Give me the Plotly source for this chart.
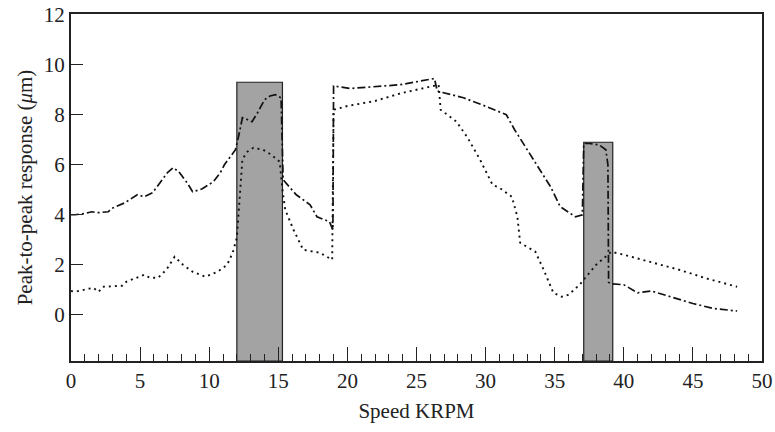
import plotly.graph_objects as go

# Series A: dash-dot curve
xa = [0, 0.3, 1.0, 1.5, 1.9, 2.7, 2.9, 3.9, 4.8, 5.3, 5.9, 6.6, 7.0, 7.4, 7.8, 8.4, 8.8, 9.3, 9.5,
      10.3, 10.8, 11.1, 11.9, 12.2, 12.4, 12.8, 13.1, 13.5, 14.0, 14.4, 14.8, 15.2, 15.3, 15.35,
      16.3, 17.3, 17.8, 18.7, 18.95, 19.0, 20.2, 22.0, 23.8, 26.3, 26.5, 26.8, 28.4, 30.1, 31.5,
      32.1, 33.0, 33.9, 34.7, 35.4, 36.5, 37.0, 37.1, 37.5, 38.2, 38.7, 38.85, 38.9, 39.1, 40.0,
      41.0, 42.0, 43.5, 45.0, 46.5, 48.2]
ya = [4.0, 4.0, 4.05, 4.12, 4.08, 4.12, 4.24, 4.48, 4.8, 4.72, 4.88, 5.4, 5.7, 5.88, 5.72, 5.28, 4.92, 5.0, 5.04,
      5.32, 5.68, 6.0, 6.6, 7.32, 7.88, 7.8, 7.72, 8.08, 8.6, 8.75, 8.8, 8.68, 7.0, 5.4,
      4.8, 4.4, 3.92, 3.72, 3.4, 9.15, 9.05, 9.12, 9.2, 9.45, 8.95, 8.9, 8.68, 8.32, 8.0,
      7.4, 6.6, 5.8, 5.12, 4.32, 3.92, 4.0, 6.85, 6.85, 6.8, 6.6, 6.0, 1.3, 1.24, 1.2,
      0.88, 0.95, 0.7, 0.45, 0.25, 0.15]

# Series B: dotted curve
xb = [0, 0.3, 1.6, 2.0, 2.3, 3.7, 4.0, 5.3, 5.7, 6.3, 6.9, 7.5, 8.1, 8.8, 9.7, 10.6, 11.3, 11.7,
      12.0, 12.2, 12.4, 12.7, 13.2, 13.9, 14.5, 15.1, 15.3, 15.5, 16.1, 16.8, 18.0, 18.9, 19.0,
      20.0, 22.0, 23.8, 26.3, 26.6, 26.75, 27.9, 28.7, 29.6, 30.5, 31.0, 31.9, 32.3, 32.5, 33.6,
      34.2, 34.9, 35.5, 36.0, 36.8, 37.1, 38.0, 39.1, 40.0, 42.0, 44.0, 46.0, 48.2]
yb = [0.95, 0.92, 1.08, 0.92, 1.12, 1.16, 1.32, 1.6, 1.48, 1.48, 1.8, 2.32, 2.0, 1.72, 1.52, 1.72, 2.0, 2.48,
      3.08, 4.6, 6.2, 6.5, 6.68, 6.6, 6.4, 6.12, 5.0, 4.2, 3.4, 2.6, 2.48, 2.2, 8.2,
      8.35, 8.55, 8.85, 9.15, 9.2, 8.2, 7.72, 7.08, 6.2, 5.2, 5.08, 4.72, 3.92, 2.88, 2.52,
      1.8, 0.88, 0.72, 0.8, 1.2, 1.4, 2.0, 2.52, 2.4, 2.1, 1.8, 1.45, 1.12]

# Shaded speed bands: (x0, x1, top)
bands_x0 = [12.0, 37.1]
bands_x1 = [15.3, 39.2]
bands_top = [9.3, 6.9]

x_ticks = [0, 5, 10, 15, 20, 25, 30, 35, 40, 45, 50]
y_ticks = [0, 2, 4, 6, 8, 10, 12]

YMIN, YMAX = -1.85, 12.03

fig = go.Figure()
for x0, x1, top in zip(bands_x0, bands_x1, bands_top):
    fig.add_shape(type="rect", xref="x", yref="y", x0=x0, x1=x1, y0=YMIN, y1=top,
                  fillcolor="#a3a3a3", line=dict(color="#222", width=1.2), layer="below")

fig.add_trace(go.Scatter(x=xa, y=ya, mode="lines",
                         line=dict(color="#111", width=1.7, dash="8px,3px,2px,3px"),
                         showlegend=False, hoverinfo="skip"))
fig.add_trace(go.Scatter(x=xb, y=yb, mode="lines",
                         line=dict(color="#111", width=1.9, dash="2px,4px"),
                         showlegend=False, hoverinfo="skip"))

font_family = "Liberation Serif, Times New Roman, serif"
fig.update_layout(
    width=775, height=432,
    margin=dict(l=71, r=13, t=14, b=71),
    paper_bgcolor="white", plot_bgcolor="white",
    font=dict(family=font_family, color="#222", size=21),
    xaxis=dict(range=[0, 50], tickvals=x_ticks, ticks="inside", ticklen=14, tickwidth=1.3,
               tickcolor="#222", showline=True, linecolor="#222", linewidth=2, mirror=True,
               showgrid=False, zeroline=False, automargin=False, ticklabeloverflow="allow",
               minor=dict(dtick=1, ticks="inside", ticklen=7, tickwidth=1.2, tickcolor="#222", showgrid=False),
               title=dict(text="Speed KRPM", font=dict(size=21), standoff=11),
               tickfont=dict(size=21)),
    yaxis=dict(range=[YMIN, YMAX], tickvals=y_ticks, ticks="inside", ticklen=12, tickwidth=1.3,
               tickcolor="#222", showline=True, linecolor="#222", linewidth=2, mirror=True,
               showgrid=False, zeroline=False, automargin=False, ticklabeloverflow="allow",
               title=dict(text="Peak-to-peak response (<i>μ</i>m)", font=dict(size=21), standoff=5),
               tickfont=dict(size=21)),
)

# remove the browser's default 8px body margin so the figure fills the window exactly
fig.write_html("out.html", config={"displayModeBar": False},
               post_script="document.body.style.margin='0';document.body.style.overflow='hidden';")
